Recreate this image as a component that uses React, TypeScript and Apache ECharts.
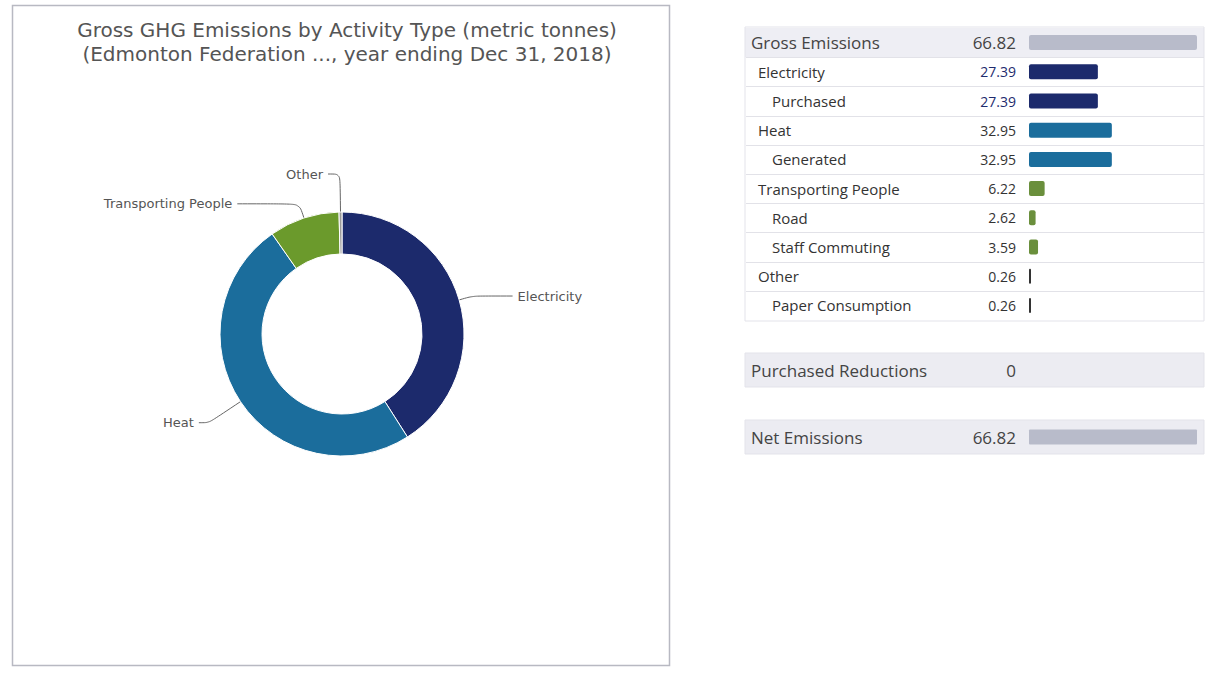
import React, { useEffect, useRef } from "react";
import * as echarts from "echarts";

// ---- data ----
const pieCategories = ["Electricity", "Heat", "Transporting People", "Other"];
const pieValues = [27.39, 32.95, 6.22, 0.26];
const pieColors = ["#1c2a6c", "#1b6d9c", "#6b9a2c", "#9a9a9a"];

const tableLabels = [
  "Gross Emissions",
  "Electricity",
  "Purchased",
  "Heat",
  "Generated",
  "Transporting People",
  "Road",
  "Staff Commuting",
  "Other",
  "Paper Consumption",
];
const tableLevels = [0, 1, 2, 1, 2, 1, 2, 2, 1, 2];
const tableValues = [66.82, 27.39, 27.39, 32.95, 32.95, 6.22, 2.62, 3.59, 0.26, 0.26];
const tableGroups = ["gross", "elec", "elec", "heat", "heat", "trans", "trans", "trans", "other", "other"];

const summaryLabels = ["Purchased Reductions", "Net Emissions"];
const summaryValues = [0, 66.82];

const titleLines = [
  "Gross GHG Emissions by Activity Type (metric tonnes)",
  "(Edmonton Federation ..., year ending Dec 31, 2018)",
];

// ---- styles ----
const barColor: Record<string, string> = {
  gross: "#b8bbca",
  elec: "#1c2a6c",
  heat: "#1b6d9c",
  trans: "#6a8f3c",
  other: "#333333",
};
const valueColor: Record<string, string> = {
  gross: "#444444",
  elec: "#1e2c6e",
  heat: "#333333",
  trans: "#333333",
  other: "#333333",
};
// per-slice label line lengths [length, length2]
const pieLineLens: number[][] = [
  [14, 40],
  [38, 10],
  [15, 62],
  [38, 12],
];

const TABLE_FONT = "'Open Sans', 'Noto Sans', sans-serif";
const BAR_LEFT = 1029;
const BAR_W = 168;
const TAB_X = 745;
const TAB_W = 459;
const TAB_TOP = 28;
const ROW_H = 29.2;

export default function App() {
  const ref = useRef<HTMLDivElement>(null);
  useEffect(() => {
    if (!ref.current) return;
    const chart = echarts.init(ref.current, undefined, { renderer: "svg" });
    const maxVal = tableValues[0];

    const graphics: any[] = [
      {
        type: "rect",
        shape: { x: 12.5, y: 5.5, width: 657, height: 660 },
        style: { fill: "none", stroke: "#b8b9c2", lineWidth: 1.5 },
        z: -1,
      },
      {
        type: "rect",
        shape: { x: TAB_X, y: TAB_TOP - 1, width: TAB_W, height: ROW_H * tableLabels.length + 2 },
        style: { fill: "none", stroke: "#e3e3ea", lineWidth: 1 },
        z: -1,
      },
      {
        type: "rect",
        shape: { x: TAB_X, y: TAB_TOP, width: TAB_W, height: ROW_H },
        style: { fill: "#eeeef4" },
        z: -2,
      },
      {
        type: "rect",
        shape: { x: TAB_X, y: 353, width: TAB_W, height: 34 },
        style: { fill: "#ececf2", stroke: "#e3e3ea" },
        z: -2,
      },
      {
        type: "rect",
        shape: { x: TAB_X, y: 420, width: TAB_W, height: 34 },
        style: { fill: "#ececf2", stroke: "#e3e3ea" },
        z: -2,
      },
    ];
    for (let k = 1; k < tableLabels.length; k++) {
      const y = Math.round(TAB_TOP + ROW_H * k) + 0.5;
      graphics.push({
        type: "line",
        shape: { x1: TAB_X + 1, y1: y, x2: TAB_X + TAB_W, y2: y },
        style: { stroke: "#e2e2e8", lineWidth: 1 },
        z: -1,
      });
    }

    const mkValueAxis = (gi: number) => ({
      type: "value",
      gridIndex: gi,
      min: 0,
      max: maxVal,
      show: false,
    });

    const option: any = {
      animation: false,
      backgroundColor: "#ffffff",
      title: {
        text: titleLines.join("\n"),
        left: 342,
        top: 13,
        textAlign: "center",
        textStyle: {
          fontFamily: "'DejaVu Sans', sans-serif",
          fontSize: 20,
          fontWeight: "normal",
          color: "#555555",
          lineHeight: 24,
        },
      },
      graphic: graphics,
      grid: [
        { left: BAR_LEFT, top: TAB_TOP, width: BAR_W, height: ROW_H * tableLabels.length },
        { left: BAR_LEFT, top: 353, width: BAR_W, height: 34 },
        { left: BAR_LEFT, top: 420, width: BAR_W, height: 34 },
      ],
      xAxis: [mkValueAxis(0), mkValueAxis(1), mkValueAxis(2)],
      yAxis: [
        {
          type: "category",
          gridIndex: 0,
          inverse: true,
          data: tableLabels,
          axisLine: { show: false },
          axisTick: { show: false },
          axisLabel: {
            align: "left",
            margin: BAR_LEFT - 751,
            formatter: (v: string, i: number) => `{l${tableLevels[i]}|${v}}`,
            rich: {
              l0: { fontFamily: TABLE_FONT, fontSize: 17, color: "#444444" },
              l1: { fontFamily: TABLE_FONT, fontSize: 15, color: "#333333", padding: [0, 0, 0, 7] },
              l2: { fontFamily: TABLE_FONT, fontSize: 15, color: "#333333", padding: [0, 0, 0, 21] },
            },
          },
        },
        ...[1, 2].map((gi) => ({
          type: "category",
          gridIndex: gi,
          data: [summaryLabels[gi - 1]],
          axisLine: { show: false },
          axisTick: { show: false },
          axisLabel: {
            align: "left",
            margin: BAR_LEFT - 751,
            fontFamily: TABLE_FONT,
            fontSize: 17,
            color: "#444444",
          },
        })),
      ],
      series: [
        {
          type: "pie",
          center: [342, 334],
          radius: [80, 122],
          startAngle: 90,
          clockwise: true,
          avoidLabelOverlap: false,
          itemStyle: { borderColor: "#ffffff", borderWidth: 1 },
          label: {
            show: true,
            formatter: "{b}",
            fontFamily: "'DejaVu Sans', sans-serif",
            fontSize: 13,
            color: "#555555",
          },
          labelLine: {
            show: true,
            smooth: 0.3,
            lineStyle: { color: "#666666", width: 1 },
          },
          data: pieCategories.map((n, i) => ({
            name: n,
            value: pieValues[i],
            itemStyle: { color: pieColors[i] },
            labelLine: { length: pieLineLens[i][0], length2: pieLineLens[i][1] },
          })),
        },
        {
          type: "bar",
          xAxisIndex: 0,
          yAxisIndex: 0,
          barWidth: 15,
          barMinHeight: 2,
          data: tableValues.map((v, i) => {
            const g = tableGroups[i];
            return {
              value: v,
              itemStyle: { color: barColor[g], borderRadius: 2 },
              label: {
                color: valueColor[g],
                fontSize: tableLevels[i] === 0 ? 17 : 14,
              },
            };
          }),
          label: {
            show: true,
            position: "left",
            distance: 13,
            fontFamily: TABLE_FONT,
            formatter: (p: any) => String(p.value),
          },
        },
        ...[1, 2].map((gi) => ({
          type: "bar",
          xAxisIndex: gi,
          yAxisIndex: gi,
          barWidth: 15,
          data: [
            {
              value: summaryValues[gi - 1],
              itemStyle: { color: barColor.gross, borderRadius: 1 },
            },
          ],
          label: {
            show: true,
            position: "left",
            distance: 13,
            fontFamily: TABLE_FONT,
            fontSize: 17,
            color: "#444444",
            formatter: (p: any) => String(p.value),
          },
        })),
      ],
    };
    chart.setOption(option);
    return () => chart.dispose();
  }, []);

  return (
    <div
      ref={ref}
      style={{ position: "fixed", left: 0, top: 0, width: 1212, height: 689, background: "#fff" }}
    />
  );
}
